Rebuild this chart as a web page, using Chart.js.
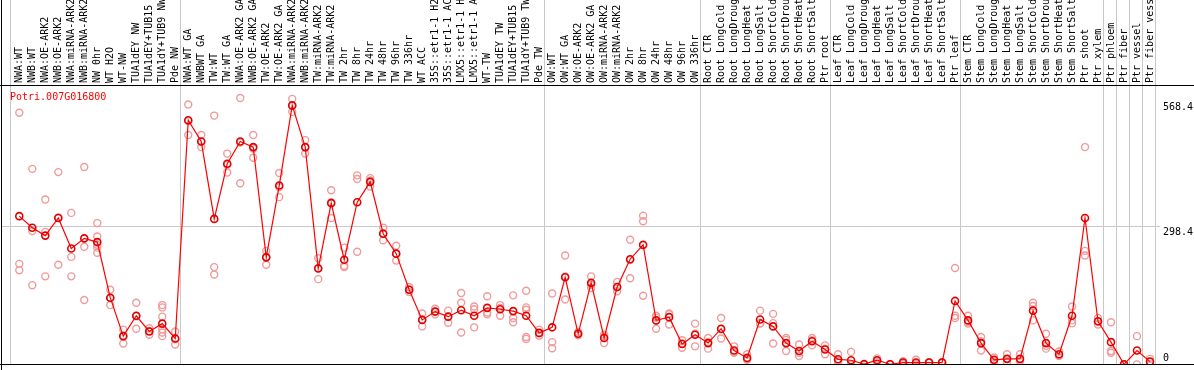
<!DOCTYPE html>
<html>
<head>
<meta charset="utf-8">
<script src="https://cdn.jsdelivr.net/npm/chart.js@4"></script>
<style>
  html, body { margin: 0; padding: 0; background: #fff; }
  canvas { display: block; }
</style>
</head>
<body>
<canvas id="exprChart" width="1194" height="370"></canvas>
<script>
const geneId = 'Potri.007G016800';

const samples = [
  'NWA:WT', 'NWB:WT', 'NWA:OE-ARK2', 'NWB:OE-ARK2', 'NWA:miRNA-ARK2', 'NWB:miRNA-ARK2',
  'NW 0hr', 'WT H2O', 'WT-NW', 'TUA1dEY NW', 'TUA1dEY+TUB15 NW', 'TUA1dY+TUB9 NW', 'Pde NW',
  'NWA:WT GA', 'NWBWT GA', 'TW:WT', 'TW:WT GA', 'NWA:OE-ARK2 GA', 'NWB:OE-ARK2 GA',
  'TW:OE-ARK2', 'TW:OE-ARK2 GA', 'NWA:miRNA-ARK2 GA', 'NWB:miRNA-ARK2 GA', 'TW:miRNA-ARK2',
  'TW:miRNA-ARK2 GA', 'TW 2hr', 'TW 8hr', 'TW 24hr', 'TW 48hr', 'TW 96hr', 'TW 336hr', 'WT ACC',
  '35S::etr1-1 H2O', '35S::etr1-1 ACC', 'LMX5::etr1-1 H2O', 'LMX5::etr1-1 ACC', 'WT-TW',
  'TUA1dEY TW', 'TUA1dEY+TUB15 TW', 'TUA1dY+TUB9 TW', 'Pde TW',
  'OW:WT', 'OW:WT GA', 'OW:OE-ARK2', 'OW:OE-ARK2 GA', 'OW:miRNA-ARK2', 'OW:miRNA-ARK2 GA',
  'OW 2hr', 'OW 8hr', 'OW 24hr', 'OW 48hr', 'OW 96hr', 'OW 336hr',
  'Root CTR', 'Root LongCold', 'Root LongDrought', 'Root LongHeat', 'Root LongSalt',
  'Root ShortCold', 'Root ShortDrought', 'Root ShortHeat', 'Root ShortSalt', 'Ptr root',
  'Leaf CTR', 'Leaf LongCold', 'Leaf LongDrought', 'Leaf LongHeat', 'Leaf LongSalt',
  'Leaf ShortCold', 'Leaf ShortDrought', 'Leaf ShortHeat', 'Leaf ShortSalt', 'Ptr leaf',
  'Stem CTR', 'Stem LongCold', 'Stem LongDrought', 'Stem LongHeat', 'Stem LongSalt',
  'Stem ShortCold', 'Stem ShortDrought', 'Stem ShortHeat', 'Stem ShortSalt', 'Ptr shoot',
  'Ptr xylem', 'Ptr phloem', 'Ptr fiber', 'Ptr vessel', 'Ptr fiber vessel'
];

// number of samples in each block between the grey separators
const groupSizes = [13, 28, 12, 10, 10, 11, 1, 1, 1, 1];

const meanValues = [
  320, 295, 278, 316, 250, 272, 264, 144, 61, 105, 71, 88, 56,
  527, 481, 314, 433, 481, 469, 231, 386, 559, 469, 207, 348, 226, 350, 394, 282, 239, 161, 96,
  114, 103, 117, 105, 122, 119, 115, 105, 68,
  80, 188, 66, 176, 57, 167, 227, 258, 95, 102, 44, 64,
  46, 77, 30, 14, 97, 82, 46, 29, 50, 32,
  11, 9, 0.5, 9, 0.3, 4, 4, 4, 4, 137,
  95, 46, 10, 12, 12, 116, 46, 22, 105, 316, 93,
  48, 0.2, 30, 6
];

const replicateValues = [
  [543, 217, 203], [422, 288, 171], [356, 286, 190], [415, 317, 215], [327, 232, 190],
  [426, 254, 139], [305, 276, 258, 252, 241], [161, 143, 128], [75, 62, 45], [133, 104, 77],
  [78, 72, 64], [128, 123, 103, 76, 69, 61], [71, 54, 43],
  [561, 525, 495], [495, 481, 469], [537, 210, 194], [455, 431, 414], [575, 479, 391],
  [495, 466, 446], [245, 232, 215], [413, 383, 361], [573, 558, 545], [484, 468, 455],
  [229, 208, 184], [376, 350, 316], [252, 213, 210], [408, 400, 243], [402, 397, 384],
  [295, 283, 268], [256, 239, 224], [167, 161, 156], [110, 97, 82], [120, 114, 108],
  [116, 103, 90], [154, 133, 69], [125, 119, 80], [147, 112, 108], [128, 122, 105],
  [149, 100, 91], [159, 123, 118, 59, 55], [75, 67, 62],
  [153, 48, 35], [235, 190, 140], [70, 66, 63], [190, 172, 165], [64, 60, 46],
  [178, 167, 158], [269, 225, 186], [321, 309, 148], [105, 101, 77], [110, 108, 86],
  [52, 45, 36], [88, 66, 39],
  [57, 48, 34], [100, 76, 56], [39, 27, 25], [22, 12, 10], [116, 89, 88],
  [109, 89, 45], [57, 53, 29], [43, 25, 18], [57, 52, 41], [41, 34, 22],
  [22, 8, 4], [27, 0, 0], [1, 0, 0], [13, 9, 5], [1, 0, 0],
  [7, 4, 1], [10, 2, 0], [5, 4, 3], [5, 4, 3], [208, 105, 100],
  [105, 91, 88], [59, 50, 30], [15, 9, 5], [22, 12, 4], [22, 8, 7],
  [133, 126, 95], [66, 40, 34], [28, 20, 18], [125, 95, 89], [469, 245, 235], [100, 92, 86],
  [91, 29, 25], [0, 0], [61, 0], [12, 0]
];

const yTickValues = [0, 298.4, 568.4];
const yMax = 603;

const meanPoints = meanValues.map((v, i) => ({ x: i, y: v }));
const replicatePoints = replicateValues.flatMap((reps, i) => reps.map(v => ({ x: i, y: v })));

const monoFont = '10px "DejaVu Sans Mono", monospace';
const xMin = -0.715;
const xMax = samples.length - 1 + 0.385;

const framePlugin = {
  id: 'frame',
  beforeDraw(chart) {
    const { ctx, chartArea: a, scales } = chart;
    ctx.save();
    ctx.fillStyle = '#fff';
    ctx.fillRect(0, 0, chart.width, chart.height);

    ctx.strokeStyle = '#c8c8c8';
    ctx.lineWidth = 1;
    ctx.beginPath();
    // separators between sample blocks, running up through the label strip
    const edges = [a.left];
    let n = 0;
    groupSizes.forEach(g => {
      n += g;
      edges.push(scales.x.getPixelForValue(n - 1 + 0.385));
    });
    edges.forEach(px => {
      const x = Math.round(px) + 0.5;
      ctx.moveTo(x, 0);
      ctx.lineTo(x, a.bottom);
    });
    yTickValues.slice(1, -1).forEach(v => {
      const y = Math.round(scales.y.getPixelForValue(v)) + 0.5;
      ctx.moveTo(1, y);
      ctx.lineTo(a.right + 5, y);
    });
    ctx.stroke();
    ctx.restore();
  },
  afterDraw(chart) {
    const { ctx, chartArea: a, scales } = chart;
    ctx.save();
    ctx.fillStyle = '#000';
    ctx.fillRect(0, Math.round(a.top), chart.width, 1);
    ctx.fillRect(0, Math.floor(a.bottom), chart.width, 1);
    ctx.fillRect(1, 0, 1, chart.height);

    ctx.font = monoFont;
    ctx.textAlign = 'left';
    yTickValues.forEach(v => {
      const y = scales.y.getPixelForValue(v);
      if (v === 0) {
        ctx.textBaseline = 'bottom';
        ctx.fillText(String(v), a.right + 8, y - 1);
      } else {
        ctx.textBaseline = 'top';
        ctx.fillText(String(v), a.right + 8, y + 1);
      }
    });

    ctx.fillStyle = '#ff0000';
    ctx.textBaseline = 'middle';
    ctx.fillText(geneId, a.left, a.top + 12);
    ctx.restore();
  }
};

document.addEventListener('DOMContentLoaded', () => {
  const ctx = document.getElementById('exprChart');
  new Chart(ctx, {
    type: 'line',
    data: {
      datasets: [
        {
          label: 'mean',
          data: meanPoints,
          xAxisID: 'x',
          yAxisID: 'y',
          borderColor: '#ff0000',
          borderWidth: 1.2,
          tension: 0,
          pointRadius: 3.5,
          pointBorderColor: '#e00000',
          pointBorderWidth: 1.6,
          pointBackgroundColor: 'rgba(0,0,0,0)',
          clip: 0,
          order: 0
        },
        {
          type: 'scatter',
          label: 'replicates',
          data: replicatePoints,
          xAxisID: 'x',
          yAxisID: 'y',
          showLine: false,
          pointRadius: 3.5,
          pointBorderColor: '#f09a9a',
          pointBorderWidth: 1.4,
          pointBackgroundColor: 'rgba(0,0,0,0)',
          clip: 0,
          order: 1
        }
      ]
    },
    options: {
      responsive: false,
      animation: false,
      devicePixelRatio: 1,
      layout: { padding: { left: 10, right: 39, top: 0, bottom: 1.5 } },
      plugins: { legend: { display: false }, tooltip: { enabled: false } },
      scales: {
        x: { type: 'linear', min: xMin, max: xMax, display: false },
        sampleAxis: {
          axis: 'x',
          type: 'linear',
          position: 'top',
          min: xMin,
          max: xMax,
          afterBuildTicks: s => { s.ticks = samples.map((_, i) => ({ value: i })); },
          afterFit: s => { s.height = 85; },
          grid: { display: false, drawTicks: false },
          border: { display: false },
          ticks: {
            autoSkip: false,
            minRotation: 90,
            maxRotation: 90,
            padding: 2,
            // rotated labels on a top axis are pushed one line height left; shift them back
            labelOffset: 12,
            color: '#000',
            font: { family: '"DejaVu Sans Mono", monospace', size: 10 },
            callback: v => samples[v]
          }
        },
        y: { type: 'linear', min: 0, max: yMax, display: false }
      }
    },
    plugins: [framePlugin]
  });
});
</script>
</body>
</html>
